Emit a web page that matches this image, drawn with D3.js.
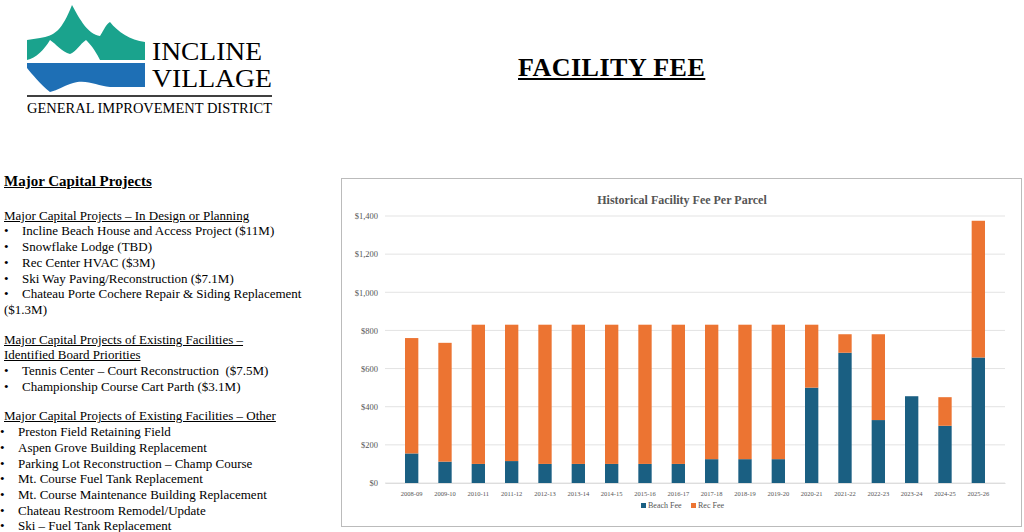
<!DOCTYPE html>
<meta charset="utf-8">
<title>Facility Fee</title>
<script src="https://d3js.org/d3.v7.min.js"></script>
<style>
  body { margin:0; font-family: "Liberation Serif", serif; background:#fff; }
  #page { position:relative; width:1024px; height:532px; overflow:hidden; }
  .h1 { position:absolute; left:518px; top:53px; font-size:26px; font-weight:bold; text-decoration:underline; letter-spacing:0.5px; }
  .left { position:absolute; left:4px; top:174px; font-size:13px; line-height:15.7px; width:330px; }
  .left .t { font-weight:bold; font-size:15px; text-decoration:underline; margin-bottom:18px; }
  .left u { display:block; }
  .left ul { margin:0; padding:0; list-style:none; }
  .left li:before { content:"•"; display:inline-block; width:18px; }
  .gap { height:14px; }
  #chart { position:absolute; left:341px; top:178px; }
</style>
<div id="page">
  <svg id="logo" width="300" height="130" style="position:absolute;left:0;top:0"></svg>
  <div class="h1">FACILITY FEE</div>
  <div class="left">
    <div class="t">Major Capital Projects</div>
    <u>Major Capital Projects – In Design or Planning</u>
    <ul>
      <li>Incline Beach House and Access Project ($11M)</li>
      <li>Snowflake Lodge (TBD)</li>
      <li>Rec Center HVAC ($3M)</li>
      <li>Ski Way Paving/Reconstruction ($7.1M)</li>
      <li>Chateau Porte Cochere Repair &amp; Siding Replacement</li>
    </ul>
    <div>($1.3M)</div>
    <div class="gap"></div>
    <u>Major Capital Projects of Existing Facilities –</u>
    <u>Identified Board Priorities</u>
    <ul>
      <li>Tennis Center – Court Reconstruction &nbsp;($7.5M)</li>
      <li>Championship Course Cart Parth ($3.1M)</li>
    </ul>
    <div class="gap"></div>
    <u>Major Capital Projects of Existing Facilities – Other</u>
    <ul style="margin-left:-4px">
      <li>Preston Field Retaining Field</li>
      <li>Aspen Grove Building Replacement</li>
      <li>Parking Lot Reconstruction – Champ Course</li>
      <li>Mt. Course Fuel Tank Replacement</li>
      <li>Mt. Course Maintenance Building Replacement</li>
      <li>Chateau Restroom Remodel/Update</li>
      <li>Ski – Fuel Tank Replacement</li>
    </ul>
  </div>
  <svg id="chart" width="682" height="350"></svg>
</div>
<script>
var years = ["2008-09","2009-10","2010-11","2011-12","2012-13","2013-14","2014-15","2015-16","2016-17","2017-18","2018-19","2019-20","2020-21","2021-22","2022-23","2023-24","2024-25","2025-26"];
var beachFee = [155,112,100,115,100,100,100,100,100,125,125,125,500,683,330,455,300,658];
var recFee = [605,623,730,715,730,730,730,730,730,705,705,705,330,97,450,0,150,717];
var yTicks = [0,200,400,600,800,1000,1200,1400];
var seriesNames = ["Beach Fee","Rec Fee"];
var seriesColors = ["#1a5f82","#ec7432"];

// logo
var lg = d3.select("#logo");
lg.append("path").attr("fill","#1aa38d")
  .attr("d","M27,40 L40,38 C55,36 62,30 72,5 C80,20 88,34 100,36 C104,30 106,24 110,22 C118,32 130,40 145,42 L145,60 L100,60 C94,48 90,44 86,40 C80,44 76,52 70,54 C62,52 56,44 50,40 C44,50 36,58 27,60 Z");
lg.append("path").attr("fill","#1e6fb5")
  .attr("d","M27,63 L145,63 L145,87 L110,87 C96,86 86,78 70,84 C64,86 58,90 50,92 C40,84 32,74 27,68 Z");
lg.append("text").attr("x",152).attr("y",60).attr("font-family","Liberation Serif").attr("font-size",26)
  .attr("textLength",110).attr("lengthAdjust","spacingAndGlyphs").text("INCLINE");
lg.append("text").attr("x",152).attr("y",87).attr("font-family","Liberation Serif").attr("font-size",26)
  .attr("textLength",120).attr("lengthAdjust","spacingAndGlyphs").text("VILLAGE");
lg.append("line").attr("x1",27).attr("x2",272).attr("y1",96).attr("y2",96).attr("stroke","#000").attr("stroke-width",1.5);
lg.append("text").attr("x",27).attr("y",113).attr("font-family","Liberation Serif").attr("font-size",14)
  .attr("textLength",245).attr("lengthAdjust","spacingAndGlyphs").text("GENERAL IMPROVEMENT DISTRICT");

// chart
var svg = d3.select("#chart");
svg.append("rect").attr("x",0.5).attr("y",0.5).attr("width",680).attr("height",348).attr("fill","#fff").attr("stroke","#bbb");
svg.append("text").attr("x",341).attr("y",26).attr("text-anchor","middle").attr("font-weight","bold")
  .attr("font-size",12).attr("fill","#555").text("Historical Facility Fee Per Parcel");

var x = d3.scaleBand().domain(years).range([44,664]).padding(0.6);
var y = d3.scaleLinear().domain([0,1400]).range([305,38]);

svg.append("g").selectAll("line").data(yTicks).join("line")
  .attr("x1",44).attr("x2",664).attr("y1",d=>y(d)).attr("y2",d=>y(d))
  .attr("stroke","#e3e3e3");
var yAxis = svg.append("g").attr("transform","translate(40,0)")
  .call(d3.axisLeft(y).tickValues(yTicks).tickSize(0).tickFormat(d=>"$"+d3.format(",")(d)));
yAxis.select(".domain").remove();
yAxis.selectAll("text").attr("font-family","Liberation Serif").attr("font-size",8.5).attr("fill","#555");

var stack = d3.stack().keys([0,1]).value((d,k)=>k===0?beachFee[d]:recFee[d]);
var layers = stack(d3.range(years.length));
svg.append("g").selectAll("g").data(layers).join("g").attr("fill",(d,i)=>seriesColors[i])
  .selectAll("rect").data(d=>d).join("rect")
  .attr("x",(d,i)=>x(years[i])).attr("width",x.bandwidth())
  .attr("y",d=>y(d[1])).attr("height",d=>y(d[0])-y(d[1]));

var xAxis = svg.append("g").attr("transform","translate(0,305)")
  .call(d3.axisBottom(x).tickSize(0).tickPadding(8));
xAxis.select(".domain").attr("stroke","#ddd");
xAxis.selectAll("text").attr("font-family","Liberation Serif").attr("font-size",6.5).attr("fill","#555");

var leg = svg.append("g").selectAll("g").data(seriesNames).join("g")
  .attr("transform",(d,i)=>"translate("+(300+i*50)+",330)");
leg.append("rect").attr("width",5).attr("height",5).attr("y",-5).attr("fill",(d,i)=>seriesColors[i]);
leg.append("text").attr("x",7).attr("font-size",8).attr("fill","#555").text(d=>d);
</script>
